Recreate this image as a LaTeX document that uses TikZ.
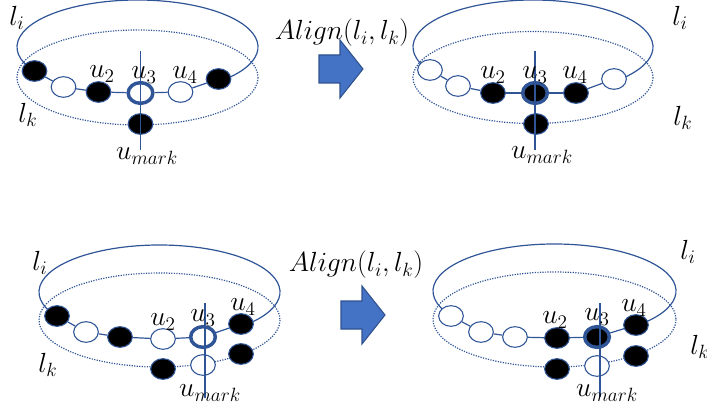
\documentclass[tikz,border=0pt]{standalone}
\usepackage{tikz}
\usetikzlibrary{shapes.geometric}
\definecolor{ringblue}{HTML}{2F5597}
\definecolor{arrowblue}{HTML}{4472C4}
\definecolor{arrowedge}{HTML}{2F528F}
\def\rx{120.5}
\def\ry{47}

\begin{document}
\begin{tikzpicture}[x=0.75pt,y=-0.75pt]
    \tikzstyle{vertex}=[ellipse,draw=ringblue,line width=0.8pt,minimum width=18.5pt,minimum height=15.5pt,inner sep=0pt]
    \tikzstyle{black vertex}=[vertex,fill=black]
    \tikzstyle{white vertex}=[vertex,fill=white]
    \tikzstyle{ring vertex}=[vertex,fill=white,line width=2.6pt]
    \tikzstyle{black ring vertex}=[ring vertex,fill=black]
    \tikzstyle{outer loop}=[draw=ringblue,line width=0.9pt]
    \tikzstyle{inner loop}=[draw=ringblue,line width=0.9pt,densely dotted]
    \tikzstyle{chain}=[draw=ringblue,line width=0.9pt]
    \tikzstyle{marker}=[draw=ringblue,line width=0.8pt]
    \tikzstyle{annot}=[font=\huge,inner sep=0pt]
    \tikzstyle{align arrow}=[fill=arrowblue,draw=arrowedge,line width=0.8pt]

    \useasboundingbox (0,0) rectangle (707,417);

    % Top row, before the alignment
    \begin{scope}[shift={(137.5,47)}]
        \draw[inner loop] (0,30.5) ellipse [x radius=\rx,y radius=47.5];
        \draw[outer loop] (148:{\rx} and {\ry}) arc [start angle=148,end angle=407.5,x radius=\rx,y radius=\ry];
        \foreach \name/\x/\y/\kind in {1/-103/24/black vertex,2/-74/40/white vertex,3/-39/45/black vertex,
                4/3/46/ring vertex,5/43/45/white vertex,6/81/32/black vertex,m/3/77/black vertex}
            \node[\kind] (TL-\name) at (\x,\y) {};
        \foreach \i/\j in {1/2,2/3,3/4,4/5,5/6}
            \draw[chain] (TL-\i) -- (TL-\j);
        \coordinate (TL-top) at (3,4);
        \coordinate (TL-bot) at (3,103);
        \draw[marker] (TL-top) -- (TL-bot);
        \node[annot] (TL-li) at (-120.5,-29) {$l_i$};
        \node[annot] (TL-lk) at (-109.5,68) {$l_k$};
        \node[annot] (TL-u2) at (-35.5,27) {$u_2$};
        \node[annot] (TL-u3) at (6.5,28) {$u_3$};
        \node[annot] (TL-u4) at (47.5,28) {$u_4$};
        \node[annot] (TL-um) at (9.5,109) {$u_{mark}$};
    \end{scope}

    % Top row, after the alignment
    \begin{scope}[shift={(533,47)}]
        \draw[inner loop] (0,30.5) ellipse [x radius=120,y radius=46];
        \draw[outer loop] (148:120 and {\ry}) arc [start angle=148,end angle=407.5,x radius=120,y radius=\ry];
        \foreach \name/\x/\y/\kind in {1/-103/23/white vertex,2/-75/39/white vertex,3/-40/46/black vertex,
                4/2/46/black ring vertex,5/43/46/black vertex,6/81/32/white vertex,m/3/77/black vertex}
            \node[\kind] (TR-\name) at (\x,\y) {};
        \foreach \i/\j in {1/2,2/3,3/4,4/5,5/6}
            \draw[chain] (TR-\i) -- (TR-\j);
        \coordinate (TR-top) at (2,4);
        \coordinate (TR-bot) at (2,103);
        \draw[marker] (TR-top) -- (TR-bot);
        \node[annot] (TR-li) at (147,-29) {$l_i$};
        \node[annot] (TR-lk) at (150,71) {$l_k$};
        \node[annot] (TR-u2) at (-40,28) {$u_2$};
        \node[annot] (TR-u3) at (2,28) {$u_3$};
        \node[annot] (TR-u4) at (42,28) {$u_4$};
        \node[annot] (TR-um) at (9,108) {$u_{mark}$};
    \end{scope}

    % Bottom row, before the alignment
    \begin{scope}[shift={(159.5,292)}]
        \draw[inner loop] (0,28) ellipse [x radius=\rx,y radius=\ry];
        \draw[outer loop] (148:{\rx} and {\ry}) arc [start angle=148,end angle=407.5,x radius=\rx,y radius=\ry];
        \foreach \name/\x/\y/\kind in {1/-102.5/24/black vertex,2/-73.5/40/white vertex,3/-39.5/45/black vertex,
                4/3.5/47/white vertex,5/43.5/45/ring vertex,6/81.5/32/black vertex,
                7/3.5/77/black vertex,8/43.5/73/white vertex,9/81.5/62/black vertex}
            \node[\kind] (BL-\name) at (\x,\y) {};
        \foreach \i/\j in {1/2,2/3,3/4,4/5,5/6}
            \draw[chain] (BL-\i) -- (BL-\j);
        \coordinate (BL-top) at (45.5,11);
        \coordinate (BL-bot) at (45.5,106);
        \draw[marker] (BL-top) -- (BL-bot);
        \node[annot] (BL-li) at (-119.5,-29) {$l_i$};
        \node[annot] (BL-lk) at (-111.5,73) {$l_k$};
        \node[annot] (BL-u2) at (3.5,30) {$u_2$};
        \node[annot] (BL-u3) at (43.5,26) {$u_3$};
        \node[annot] (BL-u4) at (83.5,15) {$u_4$};
        \node[annot] (BL-um) at (50.5,101) {$u_{mark}$};
    \end{scope}

    % Bottom row, after the alignment
    \begin{scope}[shift={(554.5,291)}]
        \draw[inner loop] (0,28.5) ellipse [x radius=121.5,y radius=47.5];
        \draw[outer loop] (148:121.5 and {\ry}) arc [start angle=148,end angle=407.5,x radius=121.5,y radius=\ry];
        \foreach \name/\x/\y/\kind in {1/-103.5/25/white vertex,2/-73.5/41/white vertex,3/-39.5/46/white vertex,
                4/2.5/47/black vertex,5/42.5/46/black ring vertex,6/81.5/34/black vertex,
                7/2.5/78/black vertex,8/42.5/75/white vertex,9/81.5/65/black vertex}
            \node[\kind] (BR-\name) at (\x,\y) {};
        \foreach \i/\j in {1/2,2/3,3/4,4/5,5/6}
            \draw[chain] (BR-\i) -- (BR-\j);
        \coordinate (BR-top) at (45.5,12);
        \coordinate (BR-bot) at (45.5,106);
        \draw[marker] (BR-top) -- (BR-bot);
        \node[annot] (BR-li) at (133.5,-39) {$l_i$};
        \node[annot] (BR-lk) at (145.5,56) {$l_k$};
        \node[annot] (BR-u2) at (0.5,29) {$u_2$};
        \node[annot] (BR-u3) at (42.5,26) {$u_3$};
        \node[annot] (BR-u4) at (79.5,17) {$u_4$};
        \node[annot] (BR-um) at (52.5,102) {$u_{mark}$};
    \end{scope}

    % The two Align steps
    \foreach \x/\y in {319/55,341/301}
        \draw[align arrow] (\x,\y) -- ++(21,0) -- ++(0,-15) -- ++(23,29) -- ++(-23,29) -- ++(0,-15) -- ++(-21,0) -- cycle;
    \node[annot] (align-top) at (342,33) {$Align(l_i,l_k)$};
    \node[annot] (align-bot) at (356,265) {$Align(l_i,l_k)$};
\end{tikzpicture}
\end{document}
